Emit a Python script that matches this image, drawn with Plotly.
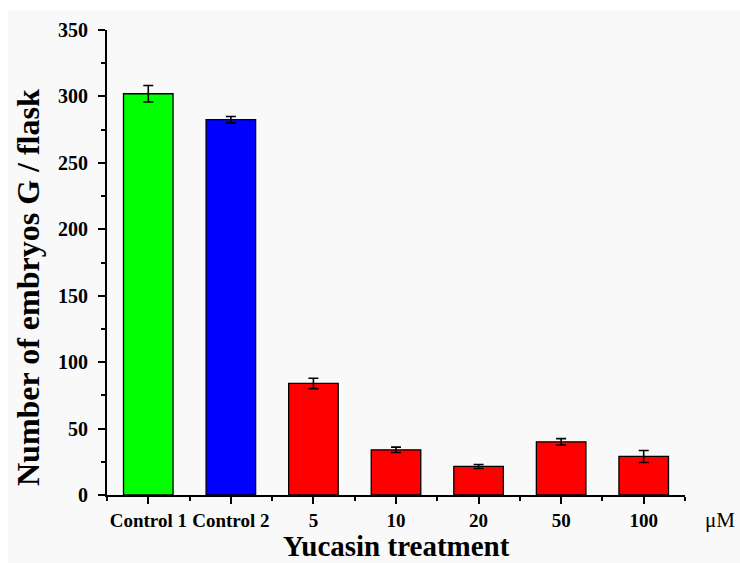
import plotly.graph_objects as go

# Embryo counts per flask under yucasin treatment
categories = ["Control 1", "Control 2", "5", "10", "20", "50", "100"]
counts = [302, 282.5, 84, 34, 21.5, 40, 29]
errors = [6.2, 2.4, 3.9, 2.0, 1.5, 2.4, 4.5]
bar_colors = ["#00ff00", "#0000ff", "#ff0000", "#ff0000", "#ff0000", "#ff0000", "#ff0000"]

W, H = 740, 563
L, R, T, B = 107, 55, 30, 68
pw, ph = W - L - R, H - T - B

serif = "Liberation Serif, DejaVu Serif, serif"

positions = list(range(len(categories)))


def px_x(x):
    return (x - L) / pw


def px_y(y):
    return (T + ph - y) / ph


fig = go.Figure()
fig.add_trace(go.Bar(
    x=positions,
    y=counts,
    width=0.6,
    marker=dict(color=bar_colors, line=dict(color="black", width=1.3)),
    error_y=dict(type="data", array=errors, visible=True,
                 color="black", thickness=1.6, width=5),
    showlegend=False,
))

fig.update_layout(
    width=W, height=H,
    margin=dict(l=L, r=R, t=T, b=B, pad=0, autoexpand=False),
    paper_bgcolor="white",
    plot_bgcolor="rgba(0,0,0,0)",
    font=dict(family=serif, color="black"),
    shapes=[dict(
        type="rect", xref="paper", yref="paper", layer="below",
        x0=px_x(8), x1=px_x(W), y0=px_y(H), y1=px_y(10),
        fillcolor="#f9f9f9", line=dict(width=0),
    )],
    annotations=[
        dict(text="μM", xref="paper", yref="paper",
             x=px_x(720), y=px_y(520), xanchor="center", yanchor="middle",
             showarrow=False, font=dict(family=serif, size=21, color="black")),
        dict(text="<b>Yucasin treatment</b>", xref="paper", yref="paper",
             x=0.5, y=px_y(546), xanchor="center", yanchor="middle",
             showarrow=False, font=dict(family=serif, size=29, color="black")),
        dict(text="<b>Number of embryos G / flask</b>", xref="paper", yref="paper",
             x=px_x(28), y=px_y(288), xanchor="center", yanchor="middle",
             textangle=-90, showarrow=False,
             font=dict(family=serif, size=32, color="black")),
    ],
)

fig.update_xaxes(
    range=[-0.5, 6.5],
    automargin=False,
    tickmode="array",
    tickvals=positions,
    ticktext=[f"<b>{c}</b>" for c in categories],
    tickfont=dict(family=serif, size=19, color="black"),
    tickangle=0,
    ticks="outside", ticklen=7, tickwidth=1.5, tickcolor="black",
    ticklabelstandoff=0,
    minor=dict(tickmode="array", tickvals=[p - 0.5 for p in positions] + [6.5],
               ticks="outside", ticklen=4, tickwidth=1.5, tickcolor="black"),
    showline=True, linecolor="black", linewidth=1.8,
    showgrid=False, zeroline=False,
)

yticks = list(range(0, 351, 50))
fig.update_yaxes(
    range=[0, 350],
    automargin=False,
    tickmode="array",
    tickvals=yticks,
    ticktext=[f"<b>{v}</b>" for v in yticks],
    tickfont=dict(family=serif, size=20, color="black"),
    ticks="outside", ticklen=7, tickwidth=1.5, tickcolor="black",
    ticklabelstandoff=6,
    minor=dict(tickmode="array", tickvals=[v + 25 for v in yticks[:-1]],
               ticks="outside", ticklen=4, tickwidth=1.5, tickcolor="black"),
    showline=True, linecolor="black", linewidth=1.8,
    showgrid=False, zeroline=False,
)

fig.write_html("out.html")
